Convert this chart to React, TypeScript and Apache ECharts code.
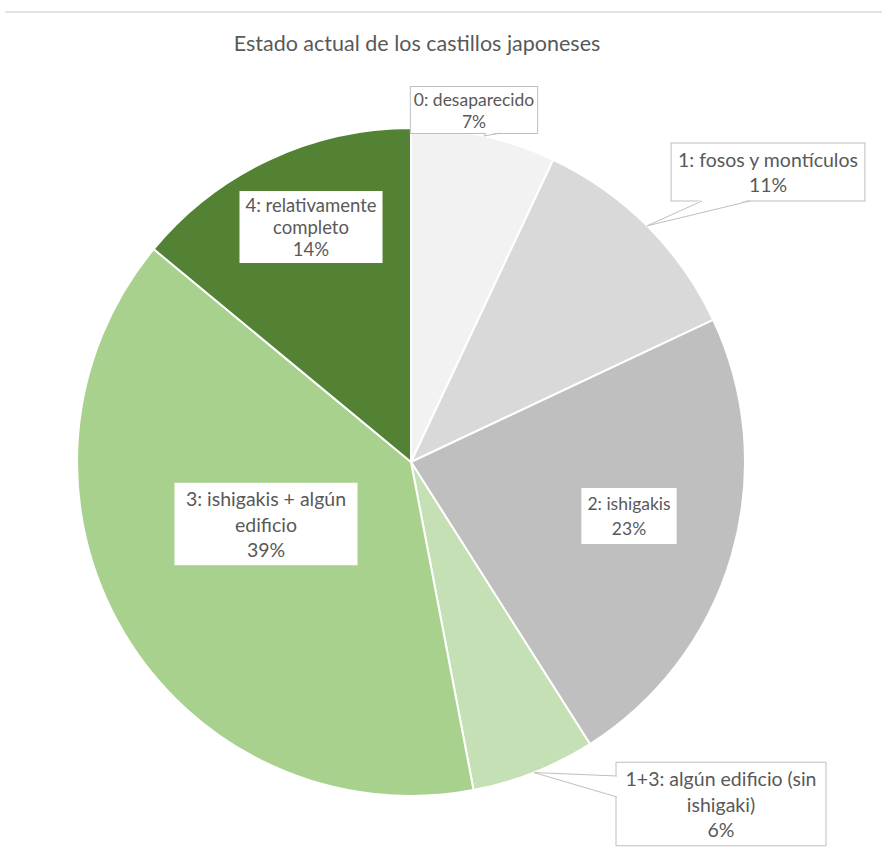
import React, { useEffect, useRef } from "react";
import * as echarts from "echarts";

const categories = [
  "0: desaparecido",
  "1: fosos y montículos",
  "2: ishigakis",
  "1+3: algún edificio (sin\nishigaki)",
  "3: ishigakis + algún\nedificio",
  "4: relativamente\ncompleto",
];
const values = [7, 11, 23, 6, 39, 14];
const colors = ["#f2f2f2", "#d9d9d9", "#bfbfbf", "#c5e0b4", "#a9d18e", "#548235"];
const title = "Estado actual de los castillos japoneses";

const CX = 411;
const CY = 462;
const R = 334;

// label box centres (px), widths (null = auto), text sizes
const labelCenters: [number, number][] = [
  [474, 110],
  [768, 172],
  [629, 516],
  [721, 804],
  [266, 524],
  [311, 227],
];
const labelWidths: (number | null)[] = [null, null, null, 197, 171, 133];
const labelFontSizes = [17.5, 19.5, 17.5, 19.5, 19.5, 18.5];
const labelLineHeights = [22, 25.5, 25, 25.5, 25.5, 22];
const labelPaddings: [number, number][] = [[1, 3], [3, 6], [3, 6], [3, 6], [3, 6], [3, 5]];
const outsideLabel = [true, true, false, true, false, false];
// callout wedge base points on the box edge, for outside labels
const calloutBases: Record<number, [number, number][]> = {
  0: [[486, 133], [501, 133]],
  1: [[702, 201], [750, 201]],
  3: [[617, 776], [617, 797]],
};

const FONT = "Lato, 'Open Sans', sans-serif";
const TEXT = "#595959";
const BORDER = "#bfbfbf";

function calloutGraphics() {
  const total = values.reduce((a, b) => a + b, 0);
  const out: any[] = [];
  let cum = 0;
  values.forEach((v, i) => {
    const mid = (cum + v / 2) / total;
    cum += v;
    const base = calloutBases[i];
    if (!base) return;
    const th = mid * Math.PI * 2;
    const tip = [CX + R * Math.sin(th), CY - R * Math.cos(th)];
    const inward = i === 3 ? [1.5, 0] : [0, -1.5];
    out.push({
      type: "polygon",
      z: 10,
      silent: true,
      shape: {
        points: [
          [base[0][0] + inward[0], base[0][1] + inward[1]],
          tip,
          [base[1][0] + inward[0], base[1][1] + inward[1]],
        ],
      },
      style: { fill: "#ffffff", stroke: "none" },
    });
    out.push({
      type: "polyline",
      z: 11,
      silent: true,
      shape: { points: [base[0], tip, base[1]] },
      style: { stroke: BORDER, lineWidth: 1, fill: "none" },
    });
  });
  return out;
}

export default function App() {
  const ref = useRef<HTMLDivElement>(null);
  useEffect(() => {
    if (!ref.current) return;
    const chart = echarts.init(ref.current, undefined, { renderer: "svg" });
    chart.setOption({
      animation: false,
      backgroundColor: "#ffffff",
      title: {
        text: title,
        left: 412,
        top: 27,
        textAlign: "center",
        textStyle: { fontFamily: FONT, fontSize: 21.5, fontWeight: "normal", color: TEXT },
      },
      graphic: [
        {
          type: "line",
          shape: { x1: 5, y1: 12, x2: 882, y2: 12 },
          style: { stroke: "#e3e3e3", lineWidth: 2 },
          silent: true,
        },
        ...calloutGraphics(),
      ],
      series: [
        {
          type: "pie",
          center: [CX, CY],
          radius: R,
          startAngle: 90,
          clockwise: true,
          avoidLabelOverlap: false,
          itemStyle: { borderColor: "#ffffff", borderWidth: 2 },
          label: {
            show: true,
            position: "outside",
            formatter: "{b}\n{d}%",
            fontFamily: FONT,
            color: TEXT,
            backgroundColor: "#ffffff",
            align: "center",
            overflow: "none",
          },
          labelLine: { show: false },
          labelLayout: (p: any) => {
            const i = p.dataIndex;
            return {
              x: labelCenters[i][0],
              y: labelCenters[i][1],
              align: "center",
              verticalAlign: "middle",
            };
          },
          data: categories.map((name, i) => ({
            name,
            value: values[i],
            itemStyle: { color: colors[i] },
            label: {
              ...(labelWidths[i] != null ? { width: labelWidths[i] } : {}),
              overflow: "none",
              fontSize: labelFontSizes[i],
              lineHeight: labelLineHeights[i],
              padding: labelPaddings[i],
              borderColor: outsideLabel[i] ? BORDER : "transparent",
              borderWidth: outsideLabel[i] ? 1 : 0,
            },
          })),
        },
      ],
    });
    return () => chart.dispose();
  }, []);
  return (
    <div
      ref={ref}
      style={{ position: "absolute", left: 0, top: 0, width: 882, height: 856, background: "#fff" }}
    />
  );
}
